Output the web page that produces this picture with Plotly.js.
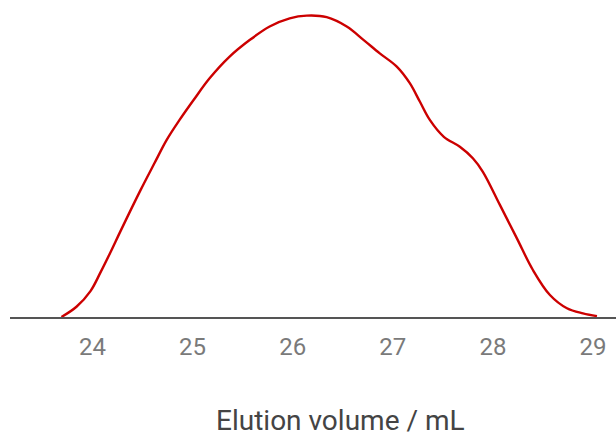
<!DOCTYPE html>
<html>
<head>
<meta charset="utf-8">
<script src="https://cdn.plot.ly/plotly-3.0.1.min.js"></script>
<style>html,body{margin:0;padding:0;background:#fff;}#chart{width:616px;height:439px;}</style>
</head>
<body>
<div id="chart"></div>
<script>
const elutionVolume = [23.69, 23.84, 23.98, 24.08, 24.18, 24.28, 24.48, 24.62, 24.74, 24.87, 25.01, 25.17, 25.37, 25.57, 25.77, 25.97, 26.14, 26.34, 26.54, 26.71, 26.87, 27.04, 27.17, 27.27, 27.37, 27.51, 27.67, 27.80, 27.90, 28.07, 28.24, 28.40, 28.57, 28.74, 28.90, 29.04];
const absorbance = [0.0, 0.034, 0.086, 0.148, 0.215, 0.285, 0.421, 0.511, 0.587, 0.654, 0.720, 0.792, 0.864, 0.919, 0.964, 0.991, 1.0, 0.995, 0.964, 0.919, 0.875, 0.831, 0.776, 0.715, 0.654, 0.598, 0.565, 0.527, 0.482, 0.372, 0.261, 0.156, 0.073, 0.029, 0.012, 0.003];
const tickValues = [24, 25, 26, 27, 28, 29];
const tickLabels = ["24", "25", "26", "27", "28", "29"];
const xTitle = "Elution volume / mL";

const trace = {
  x: elutionVolume,
  y: absorbance,
  type: "scatter",
  mode: "lines",
  line: {color: "#cc0000", width: 2.4, shape: "spline", smoothing: 1},
  hoverinfo: "skip",
  cliponaxis: false
};

const layout = {
  width: 616,
  height: 439,
  margin: {l: 10, r: 0, t: 0, b: 122, pad: 0},
  paper_bgcolor: "#ffffff",
  plot_bgcolor: "#ffffff",
  showlegend: false,
  font: {family: "Roboto, sans-serif"},
  xaxis: {
    range: [23.176, 29.23],
    tickvals: tickValues,
    ticktext: tickLabels,
    ticks: "",
    showgrid: false,
    zeroline: false,
    showline: true,
    linecolor: "#555555",
    linewidth: 1.5,
    tickfont: {family: "Roboto, sans-serif", size: 24, color: "#7a7a7a"},
    ticklabelstandoff: 8,
    fixedrange: true
  },
  yaxis: {
    range: [0, 1.052],
    visible: false,
    showgrid: false,
    zeroline: false,
    fixedrange: true
  },
  annotations: [{
    text: xTitle,
    xref: "paper", yref: "paper",
    x: (340 - 10) / 606, y: -(420 - 317) / 317,
    xanchor: "center", yanchor: "middle",
    showarrow: false,
    font: {family: "Roboto, sans-serif", size: 28, color: "#444444"}
  }]
};

Plotly.newPlot("chart", [trace], layout, {displayModeBar: false, staticPlot: true});
</script>
</body>
</html>
